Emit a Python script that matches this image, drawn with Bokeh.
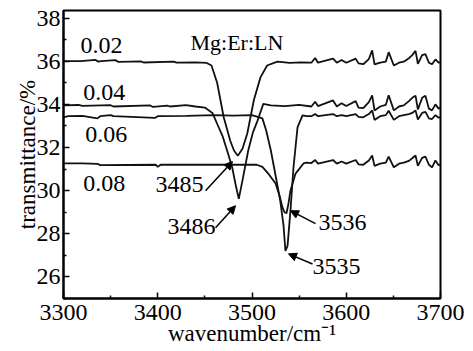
from bokeh.plotting import figure
from bokeh.models import FixedTicker, Range1d, Arrow, NormalHead, Label
from bokeh.embed import file_html
from bokeh.resources import INLINE

# ---------------- data ----------------
tail_wn = [3563, 3567, 3570, 3586, 3590, 3595, 3600, 3610, 3613, 3618, 3624, 3627.5,
           3630, 3636, 3642, 3645, 3650.5, 3656, 3661, 3666.5, 3670, 3673.5, 3676,
           3680.5, 3684, 3687.7, 3691, 3694.6, 3698, 3700]

wn_002 = [3300, 3318, 3334, 3337, 3340, 3355, 3358, 3382, 3385, 3417, 3420, 3440, 3452,
          3457, 3463, 3470, 3477, 3481, 3485, 3490, 3495, 3502, 3509, 3516, 3527, 3540,
          3552] + tail_wn
tr_002 = [36.0, 36.0, 36.06, 35.98, 36.0, 36.05, 35.97, 35.99, 35.94, 35.98, 35.93, 35.95,
          35.92, 35.8, 35.0, 33.4, 32.3, 31.85, 31.62, 31.95, 32.65, 34.2, 35.25, 35.8,
          35.98, 35.92, 35.95,
          35.93, 36.15, 35.93, 36.12, 35.93, 36.06, 35.93, 36.12, 35.9, 35.86, 36.1, 36.5,
          35.85, 35.93, 35.98, 36.42, 35.8, 35.93, 35.98, 36.14, 36.28, 36.48, 35.88,
          36.28, 36.33, 35.93, 35.86, 36.08, 35.93, 35.95]

wn_004 = [3300, 3316, 3320, 3350, 3353, 3392, 3395, 3410, 3413, 3430, 3440, 3450, 3458,
          3463, 3469, 3474, 3479, 3483, 3486, 3490, 3496, 3501, 3506, 3512, 3520, 3535,
          3550] + tail_wn
tr_004 = [33.95, 33.97, 33.93, 33.96, 33.9, 33.95, 33.88, 33.94, 33.9, 33.96, 33.9, 33.85,
          33.6, 33.1, 32.5, 31.8, 31.07, 30.2, 29.62, 30.5, 31.86, 32.7, 33.26, 34.02,
          33.95, 33.92, 33.98,
          33.9, 34.12, 33.92, 34.18, 33.9, 34.05, 33.92, 34.15, 33.85, 33.82, 34.1, 34.42,
          33.72, 33.9, 33.98, 34.42, 33.72, 33.9, 33.95, 34.15, 34.3, 34.4, 33.76, 34.3,
          34.4, 33.8, 33.72, 34.0, 33.8, 33.85]

wn_006 = [3300, 3305, 3320, 3336, 3339, 3350, 3353, 3397, 3400, 3430, 3460, 3480, 3500,
          3511, 3515, 3520, 3525, 3530, 3533.4, 3535.5, 3537.7, 3540.8, 3544, 3548.3,
          3553.6, 3558] + tail_wn
tr_006 = [33.4, 33.45, 33.47, 33.35, 33.45, 33.5, 33.45, 33.37, 33.45, 33.47, 33.5, 33.48,
          33.5, 33.35, 32.8, 31.86, 30.7, 29.53, 28.4, 27.2, 27.44, 29.07, 31.07, 32.93,
          33.49, 33.45,
          33.45, 33.55, 33.45, 33.55, 33.45, 33.5, 33.45, 33.55, 33.42, 33.4, 33.55, 33.72,
          33.28, 33.45, 33.5, 33.7, 33.28, 33.45, 33.5, 33.55, 33.6, 33.72, 33.3, 33.6,
          33.65, 33.35, 33.32, 33.5, 33.38, 33.4]

wn_008 = [3300, 3320, 3336, 3339, 3398, 3400, 3403, 3430, 3460, 3490, 3505, 3511, 3518,
          3525, 3529, 3532.4, 3534.5, 3536.6, 3538.7, 3540.8, 3546.2, 3554.6, 3558] + tail_wn
tr_008 = [31.26, 31.26, 31.24, 31.18, 31.2, 31.1, 31.2, 31.2, 31.2, 31.2, 31.2, 31.1,
          30.75, 30.33, 29.8, 29.21, 29.0, 28.95, 29.4, 30.0, 30.79, 31.26, 31.3,
          31.28, 31.42, 31.25, 31.42, 31.25, 31.35, 31.25, 31.42, 31.22, 31.2, 31.4, 31.63,
          31.15, 31.25, 31.3, 31.58, 31.08, 31.25, 31.3, 31.38, 31.5, 31.63, 31.15, 31.52,
          31.58, 31.2, 31.08, 31.4, 31.18, 31.2]

series_names = ["0.02", "0.04", "0.06", "0.08"]
x_ticks = [3300, 3400, 3500, 3600, 3700]
x_minor = [3350, 3450, 3550, 3650]
y_ticks = [26, 28, 30, 32, 34, 36, 38]
y_minor = [25, 27, 29, 31, 33, 35, 37]

x_title = "wavenumber/cm\u207b\u00b9"
y_title = "transmittance/%"
peak_labels = ["3485", "3486", "3536", "3535"]

# ---------------- figure ----------------
FONT = "Liberation Serif"
p = figure(width=465, height=351, output_backend="svg", toolbar_location=None,
           x_range=Range1d(3300, 3700), y_range=Range1d(25, 38.35),
           min_border_left=63, min_border_right=25, min_border_top=10,
           min_border_bottom=53)
p.grid.visible = False
p.outline_line_color = "black"
p.outline_line_width = 2
p.background_fill_color = "white"
p.border_fill_color = "white"

for xs, ys in [(wn_002, tr_002), (wn_004, tr_004), (wn_006, tr_006), (wn_008, tr_008)]:
    p.line(xs, ys, line_color="#111111", line_width=1.8)

p.xaxis.ticker = FixedTicker(ticks=x_ticks, minor_ticks=x_minor)
p.yaxis.ticker = FixedTicker(ticks=y_ticks, minor_ticks=y_minor)
for ax in (p.xaxis[0], p.yaxis[0]):
    ax.axis_line_width = 2
    ax.axis_line_color = "black"
    ax.major_tick_in = 6
    ax.major_tick_out = 0
    ax.minor_tick_in = 3
    ax.minor_tick_out = 0
    ax.major_tick_line_width = 1.5
    ax.minor_tick_line_width = 1.5
    ax.major_label_text_font = FONT
    ax.major_label_text_font_size = "24px"
    ax.major_label_text_color = "black"
    ax.axis_label_text_font = FONT
    ax.axis_label_text_font_size = "23px"
    ax.axis_label_text_font_style = "normal"
    ax.axis_label_text_color = "black"

p.xaxis[0].major_label_standoff = 6
p.xaxis[0].axis_label_standoff = -2
p.yaxis[0].major_label_standoff = 3
p.yaxis[0].axis_label_standoff = -6
p.xaxis.axis_label = x_title
p.yaxis.axis_label = y_title

# series labels
lab_pos = [(3318, 36.72), (3321, 34.56), (3323, 32.6), (3321, 30.33)]
for name, (lx, ly) in zip(series_names, lab_pos):
    p.add_layout(Label(x=lx, y=ly, text=name, text_font=FONT, text_font_size="24px",
                       text_baseline="middle", text_align="left", text_color="black"))

p.add_layout(Label(x=3434.7, y=36.88, text="Mg:Er:LN", text_font=FONT,
                   text_font_size="22px", text_baseline="middle", text_align="left",
                   text_color="black"))

pk_pos = [(3397.6, 30.28), (3410.3, 28.33), (3570.6, 28.51), (3564.2, 26.47)]
for name, (lx, ly) in zip(peak_labels, pk_pos):
    p.add_layout(Label(x=lx, y=ly, text=name, text_font=FONT, text_font_size="24px",
                       text_baseline="middle", text_align="left", text_color="black"))

arrows = [((3450.7, 30.0), (3479.3, 31.35)),
          ((3461.3, 28.28), (3482.5, 29.3)),
          ((3567.4, 28.47), (3540.8, 29.07)),
          ((3564.2, 26.6), (3538.7, 27.07))]
for (x0, y0), (x1, y1) in arrows:
    p.add_layout(Arrow(end=NormalHead(size=8, fill_color="black", line_color="black",
                                      line_width=1),
                       x_start=x0, y_start=y0, x_end=x1, y_end=y1,
                       line_color="black", line_width=1.5))

open("out.html", "w").write(file_html(p, INLINE))
